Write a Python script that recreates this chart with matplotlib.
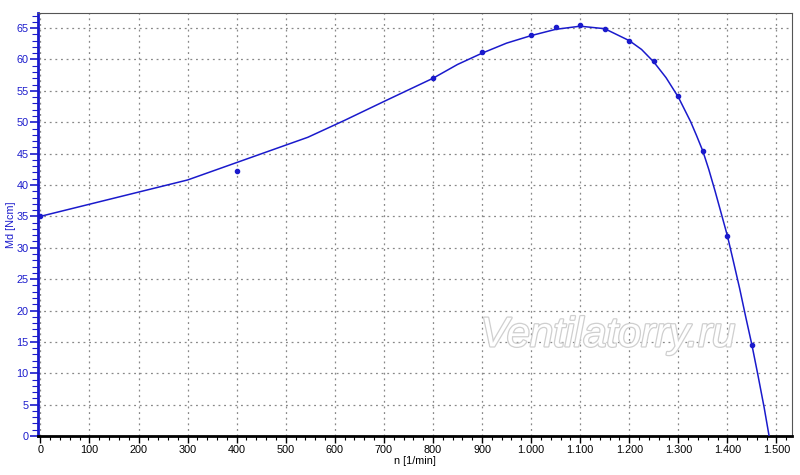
import matplotlib
matplotlib.use('Agg')
import matplotlib.pyplot as plt
import matplotlib.ticker as ticker
import matplotlib.patheffects as pe

plt.rcParams['font.family'] = ['Liberation Sans', 'DejaVu Sans']

# measured points
n_pts = [0, 400, 800, 900, 1000, 1050, 1100, 1150, 1200, 1250, 1300, 1350, 1400, 1450]
md_pts = [35.0, 42.2, 57.1, 61.2, 63.9, 65.1, 65.5, 64.8, 63.0, 59.7, 54.1, 45.4, 31.9, 14.5]

# fitted curve, vertices
n_curve = [0, 300, 545, 620, 700, 800, 850, 900, 950, 1000, 1050, 1100, 1150, 1200, 1225,
           1250, 1275, 1300, 1325, 1337, 1350, 1362, 1375, 1387, 1400, 1412, 1425, 1437,
           1450, 1462, 1475, 1485]
md_curve = [35.0, 40.8, 47.6, 50.3, 53.3, 57.0, 59.2, 61.0, 62.6, 63.8, 64.8, 65.3, 64.9, 63.0, 61.6,
            59.6, 57.1, 54.0, 50.1, 47.9, 45.4, 42.5, 39.0, 35.6, 31.9, 27.9, 23.5, 19.1,
            14.5, 9.8, 4.5, 0.0]

blue = '#1a1acc'

fig = plt.figure(figsize=(8, 4.75), dpi=100)
ax = fig.add_axes([0.048, 0.082, 0.9416, 0.8906])

ax.plot(n_curve, md_curve, color=blue, lw=1.1, zorder=3)
ax.plot(n_pts, md_pts, 'o', color=blue, ms=3, zorder=4)

ax.set_xlim(-4, 1531)
ax.set_ylim(0, 67.4)

ax.xaxis.set_major_locator(ticker.MultipleLocator(100))
ax.xaxis.set_minor_locator(ticker.MultipleLocator(20))
ax.yaxis.set_major_locator(ticker.MultipleLocator(5))
ax.yaxis.set_minor_locator(ticker.MultipleLocator(1))
ax.xaxis.set_major_formatter(ticker.FuncFormatter(lambda v, p: f'{int(round(v)):,}'.replace(',', '.')))

ax.grid(True, which='major', color='#888888', linestyle=(0, (1.5, 3)), lw=0.9)

ax.tick_params(axis='x', which='major', length=5, width=1, colors='black', labelsize=7.8, pad=1.5)
ax.tick_params(axis='x', which='minor', length=3, width=0.8, colors='black')
ax.tick_params(axis='y', which='major', length=6, width=1.2, colors=blue, labelsize=7.8, pad=1.2)
ax.tick_params(axis='y', which='minor', length=4, width=0.8, colors=blue)

ax.spines['left'].set_color(blue)
ax.spines['left'].set_linewidth(2)
ax.spines['bottom'].set_color('black')
ax.spines['bottom'].set_linewidth(2)
ax.spines['top'].set_color('#555555')
ax.spines['right'].set_color('#555555')

ax.set_xlabel('n [1/min]', fontsize=7.8, labelpad=1)
ax.set_ylabel('Md [Ncm]', fontsize=7.8, color=blue)
ax.yaxis.set_label_coords(-0.030, 0.5)

ax.text(0.756, 0.238, 'Ventilatorry.ru', transform=ax.transAxes, fontsize=30,
        style='italic', color='white', ha='center', va='center', zorder=2,
        path_effects=[pe.withStroke(linewidth=1.8, foreground='#cfcfcf')])

fig.savefig('out.png', dpi=100)
